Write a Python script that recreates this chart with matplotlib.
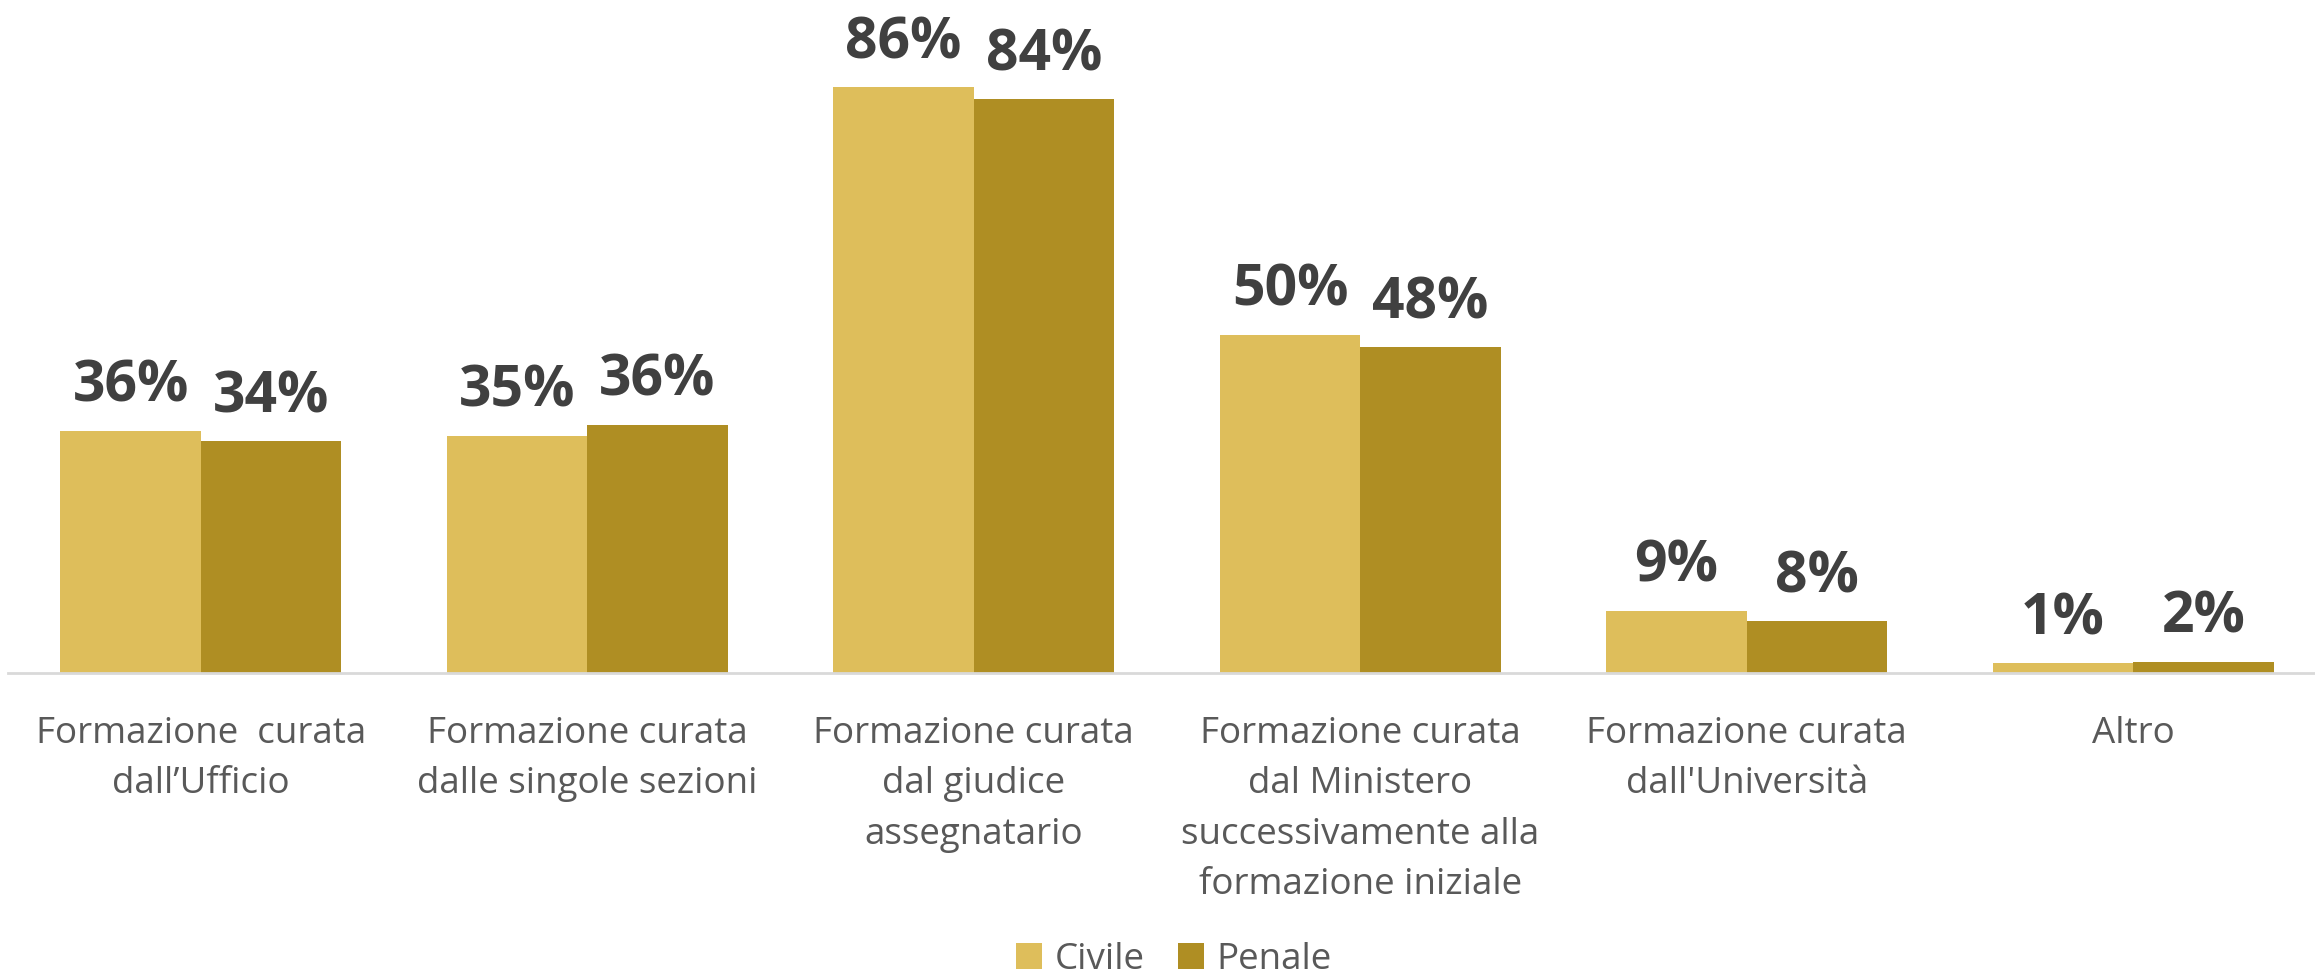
import matplotlib.pyplot as plt
import numpy as np

# dati (percentuali)
categorie = [
    "Formazione  curata\ndall\u2019Ufficio",
    "Formazione curata\ndalle singole sezioni",
    "Formazione curata\ndal giudice\nassegnatario",
    "Formazione curata\ndal Ministero\nsuccessivamente alla\nformazione iniziale",
    "Formazione curata\ndall'Universit\u00e0",
    "Altro",
]
civile = [35.6, 34.8, 86.0, 49.6, 9.1, 1.4]
penale = [34.0, 36.4, 84.2, 47.8, 7.6, 1.6]
serie = ["Civile", "Penale"]
colori = ["#DEBE5B", "#AF8E23"]

plt.rcParams['font.family'] = ['Open Sans', 'DejaVu Sans']

fig = plt.figure(figsize=(23.15, 9.75), dpi=100)
# l'asse sborda un po' a destra, come nell'originale
ax = fig.add_axes([7.5 / 2315, 302 / 975, 2319 / 2315, 673 / 975])

x = np.arange(len(categorie))
w = 0.363
for k, (vals, nome, col) in enumerate(zip([civile, penale], serie, colori)):
    pos = x + (k - 0.5) * w
    ax.bar(pos, vals, width=w, color=col, label=nome, zorder=2)
    for xx, v in zip(pos, vals):
        ax.annotate(f"{v:.0f}%", (xx, v), xytext=(0, 21), textcoords='offset points',
                    ha='center', va='baseline', fontsize=41, fontweight='bold',
                    color='#404040')

ax.set_xlim(-0.5, len(categorie) - 0.5)
ax.set_ylim(0, 98.8)
ax.set_yticks([])
for s in ['top', 'right', 'left']:
    ax.spines[s].set_visible(False)
ax.spines['bottom'].set_color('#D9D9D9')
ax.spines['bottom'].set_linewidth(2)
ax.set_xticks(x)
ax.set_xticklabels(categorie, fontsize=26.5, color='#595959', linespacing=1.53)
ax.tick_params(axis='x', length=0, pad=31)

fig.legend(loc='center', bbox_to_anchor=(1174 / 2315, 1 - 960 / 975), ncol=2,
           frameon=False, fontsize=26.5, labelcolor='#595959',
           handlelength=0.7, handleheight=0.7, handletextpad=0.35, columnspacing=0.9)

plt.savefig('out.png', dpi=100)
plt.close()
